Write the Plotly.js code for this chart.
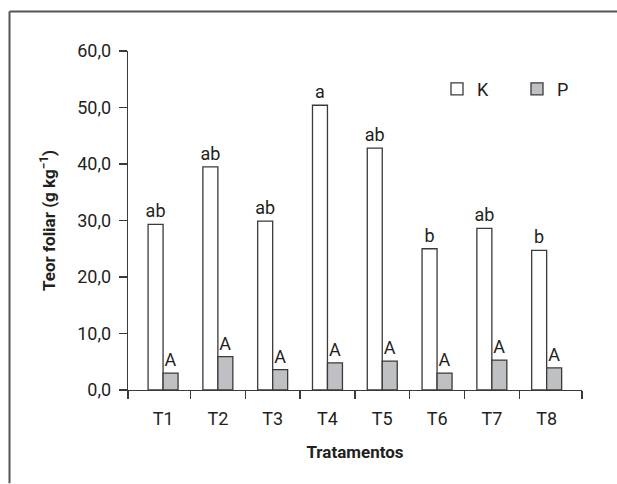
<!DOCTYPE html>
<html>
<head>
<meta charset="utf-8">
<script src="https://cdn.plot.ly/plotly-3.0.1.min.js"></script>
<style>
  html, body { margin: 0; padding: 0; background: #ffffff; }
  #chart { width: 617px; height: 484px; }
</style>
</head>
<body>
<div id="chart"></div>
<script>
// ---- data ----
const categories = ["T1", "T2", "T3", "T4", "T5", "T6", "T7", "T8"];
const kValues = [29.3, 39.5, 29.9, 50.4, 42.8, 25.0, 28.6, 24.7];
const pValues = [3.0, 5.9, 3.6, 4.8, 5.1, 3.0, 5.3, 3.9];
const kLetters = ["ab", "ab", "ab", "a", "ab", "b", "ab", "b"];
const pLetters = ["A", "A", "A", "A", "A", "A", "A", "A"];
const seriesNames = ["K", "P"];
const yTickValues = [0, 10, 20, 30, 40, 50, 60];

// ---- styling ----
const FONT = "Roboto, 'Liberation Sans', sans-serif";
const TXT = "#231f20";
const EDGE = "#3a3a3a";

const xIdx = categories.map((_, i) => i);
const xRange = [-0.64, categories.length - 1 + 0.645];
const boundaries = [xRange[0]];
for (let i = 0; i < categories.length - 1; i++) boundaries.push(i + 0.5);
boundaries.push(xRange[1]);

const traces = [
  {
    type: "bar", name: seriesNames[0], x: xIdx, y: kValues,
    marker: { color: "#ffffff", line: { color: EDGE, width: 1.3 } },
    text: kLetters, textposition: "outside", constraintext: "none",
    cliponaxis: false,
    textfont: { family: FONT, size: 18, color: TXT },
    hoverinfo: "skip"
  },
  {
    type: "bar", name: seriesNames[1], x: xIdx, y: pValues,
    marker: { color: "#bfc0c4", line: { color: EDGE, width: 1.3 } },
    text: pLetters, textposition: "outside", constraintext: "none",
    cliponaxis: false,
    textfont: { family: FONT, size: 18, color: TXT },
    hoverinfo: "skip"
  }
];

const L = 128, R = 35, T = 50.7, B = 93.5;
const W = 617, H = 484;
const pw = W - L - R, ph = H - T - B;
const px2x = px => (px - L) / pw;
const px2y = py => (H - B - py) / ph;

const layout = {
  width: W, height: H,
  margin: { l: L, r: R, t: T, b: B, pad: 0 },
  paper_bgcolor: "#ffffff", plot_bgcolor: "#ffffff",
  separators: ",.",
  font: { family: FONT, size: 17, color: TXT },
  barmode: "group", bargap: 0.453, bargroupgap: 0,
  showlegend: true,
  legend: {
    orientation: "h", x: px2x(437), y: px2y(70.5), xanchor: "left", yanchor: "top",
    font: { family: FONT, size: 18, color: TXT },
    entrywidth: 35, entrywidthmode: "pixels",
    bgcolor: "rgba(0,0,0,0)", traceorder: "normal"
  },
  xaxis: {
    type: "linear", range: xRange, fixedrange: true,
    tickmode: "array", tickvals: xIdx, ticktext: categories,
    ticks: "outside", ticklen: 12, tickcolor: "rgba(0,0,0,0)",
    tickfont: { family: FONT, size: 18, color: TXT },
    minor: { tickmode: "array", tickvals: boundaries, ticks: "outside", ticklen: 8, tickwidth: 1.3, tickcolor: EDGE, showgrid: false },
    showline: true, linecolor: EDGE, linewidth: 1.3,
    showgrid: false, zeroline: false,
    title: { text: "<b>Tratamentos</b>", font: { family: FONT, size: 17, color: TXT }, standoff: 18 }
  },
  yaxis: {
    range: [0, 60], fixedrange: true,
    tickmode: "array", tickvals: yTickValues, tickformat: ".1f",
    ticks: "outside", ticklen: 8, tickwidth: 1.3, tickcolor: EDGE,
    ticklabelstandoff: 4,
    tickfont: { family: FONT, size: 18, color: TXT },
    showline: true, linecolor: EDGE, linewidth: 1.3,
    showgrid: false, zeroline: false,
    title: { text: "<b>Teor foliar (g kg<sup>−1</sup>)</b>", font: { family: FONT, size: 17, color: TXT }, standoff: 17 }
  },
  shapes: [
    { type: "line", xref: "paper", yref: "paper", x0: px2x(9.5), x1: px2x(617), y0: px2y(11), y1: px2y(11), line: { color: "#555555", width: 2 } },
    { type: "line", xref: "paper", yref: "paper", x0: px2x(9.5), x1: px2x(9.5), y0: px2y(11), y1: px2y(484), line: { color: "#555555", width: 2 } }
  ]
};

Plotly.newPlot("chart", traces, layout, { displayModeBar: false, staticPlot: true });
</script>
</body>
</html>
